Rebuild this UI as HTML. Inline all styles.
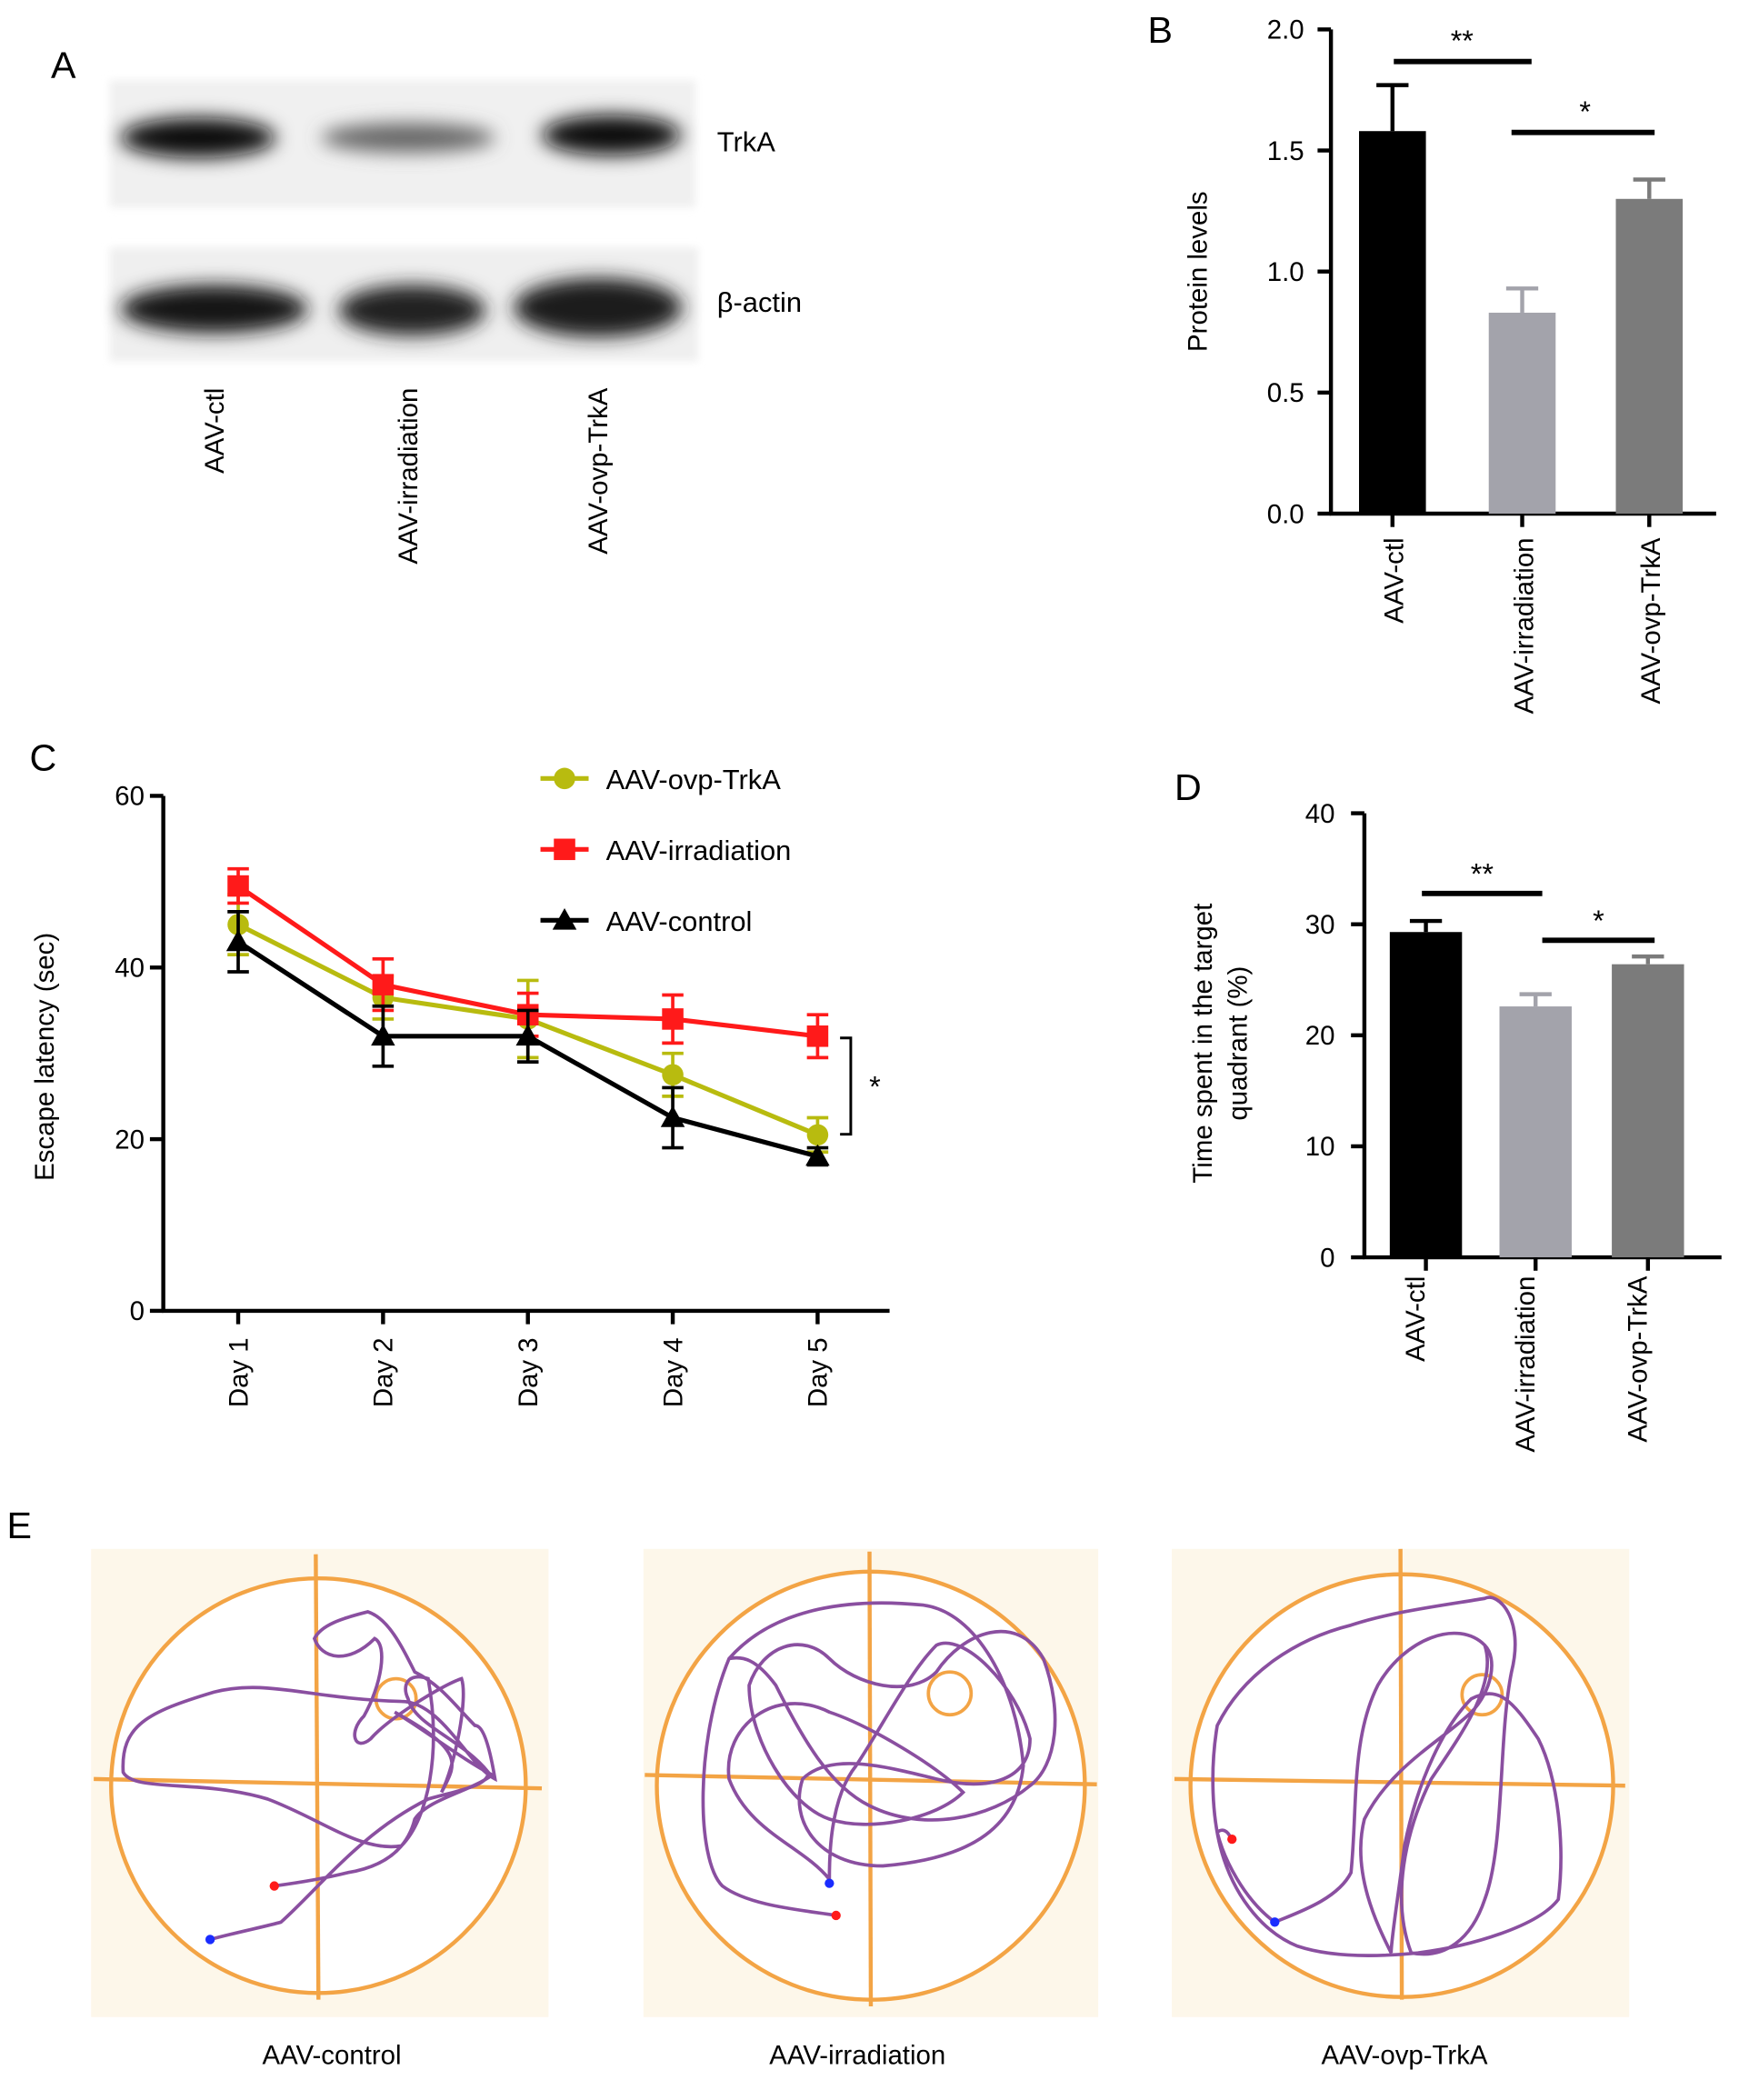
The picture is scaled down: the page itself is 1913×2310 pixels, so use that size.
<!DOCTYPE html>
<html><head><meta charset="utf-8">
<style>
html,body{margin:0;padding:0;background:#fff;}
svg{display:block;font-family:"Liberation Sans",Arial,sans-serif;}
</style></head>
<body>
<svg id="fig" width="1913" height="2310" viewBox="0 0 1300 1570" xmlns="http://www.w3.org/2000/svg">
<defs>
<filter id="blur" x="-30%" y="-80%" width="160%" height="260%"><feGaussianBlur stdDeviation="7"/></filter>
<filter id="blur2" x="-10%" y="-10%" width="120%" height="120%"><feGaussianBlur stdDeviation="3"/></filter>
</defs>

<!-- Panel A -->
<g>
<text x="38" y="58" font-size="28">A</text>
<rect x="82" y="60" width="438" height="95" fill="#f0f0f0" filter="url(#blur2)"/>
<rect x="82" y="185" width="440" height="85" fill="#efefef" filter="url(#blur2)"/>
<g filter="url(#blur)">
<ellipse cx="148" cy="103" rx="58" ry="15" fill="#111"/>
<ellipse cx="305" cy="103" rx="65" ry="11" fill="#666"/>
<ellipse cx="457" cy="101" rx="52" ry="15" fill="#111"/>
<ellipse cx="160" cy="231" rx="70" ry="18" fill="#151515"/>
<ellipse cx="308" cy="232" rx="55" ry="19" fill="#222"/>
<ellipse cx="447" cy="230" rx="63" ry="22" fill="#1e1e1e"/>
</g>
<text x="536" y="113" font-size="21">TrkA</text>
<text x="536" y="233" font-size="21">β-actin</text>
<text transform="translate(167,290) rotate(-90)" text-anchor="end" font-size="20">AAV-ctl</text>
<text transform="translate(312,290) rotate(-90)" text-anchor="end" font-size="20">AAV-irradiation</text>
<text transform="translate(454,290) rotate(-90)" text-anchor="end" font-size="20">AAV-ovp-TrkA</text>
</g>

<g id="panelB">
<text x="858" y="32" font-size="28">B</text>
<text transform="translate(902,203) rotate(-90)" text-anchor="middle" font-size="20">Protein levels</text>
</g>
<g id="panelC">
<text x="22" y="576" font-size="28">C</text>
<text transform="translate(40,790) rotate(-90)" text-anchor="middle" font-size="20">Escape latency (sec)</text>
</g>
<g id="panelD">
<text x="878" y="598" font-size="28">D</text>
<text transform="translate(906,780) rotate(-90)" text-anchor="middle" font-size="20">Time spent in the target</text>
<text transform="translate(932,780) rotate(-90)" text-anchor="middle" font-size="20">quadrant (%)</text>
</g>

<!-- Panel E -->
<g>
<text x="5" y="1150" font-size="28">E</text>
<g>
<rect x="68" y="1158" width="342" height="350" fill="#fdf7ea"/>
<circle cx="238" cy="1335" r="155" fill="#fff" stroke="#f3a445" stroke-width="3"/>
<line x1="236" y1="1162" x2="238" y2="1495" stroke="#f3a445" stroke-width="3"/>
<line x1="70" y1="1330" x2="405" y2="1337" stroke="#f3a445" stroke-width="3"/>
<circle cx="296" cy="1270" r="15" fill="none" stroke="#f3a445" stroke-width="2.5"/>
<path d="M157,1450 C175,1445 200,1440 210,1437 C240,1410 270,1370 320,1345 C345,1338 365,1335 365,1325 C345,1300 310,1290 305,1270 C300,1260 305,1250 320,1255 C330,1310 320,1360 300,1380 C270,1385 240,1360 200,1345 C150,1330 100,1340 92,1325 C90,1290 110,1280 160,1265 C200,1255 230,1270 300,1272 C330,1272 350,1320 370,1330 C365,1300 360,1290 355,1290 C340,1275 330,1260 310,1250 C300,1230 290,1210 275,1205 C255,1210 240,1215 235,1225 C240,1240 260,1245 280,1225 C290,1230 285,1260 272,1283 C260,1295 265,1310 277,1300 C290,1285 330,1260 345,1255 C350,1270 340,1320 330,1340 C340,1320 350,1310 295,1280 C320,1295 345,1315 368,1327 C350,1340 320,1345 310,1360 C305,1380 290,1395 260,1400 C240,1405 220,1408 205,1410" fill="none" stroke="#8a4fa0" stroke-width="2.5"/>
<circle cx="157" cy="1450" r="3.5" fill="#1a2cff"/><circle cx="205" cy="1410" r="3.5" fill="#ff1a1a"/>
</g>
<g>
<rect x="481" y="1158" width="340" height="350" fill="#fdf7ea"/>
<circle cx="651" cy="1335" r="160" fill="#fff" stroke="#f3a445" stroke-width="3"/>
<line x1="650" y1="1160" x2="651" y2="1500" stroke="#f3a445" stroke-width="3"/>
<line x1="482" y1="1327" x2="820" y2="1334" stroke="#f3a445" stroke-width="3"/>
<circle cx="710" cy="1266" r="16" fill="none" stroke="#f3a445" stroke-width="2.5"/>
<path d="M625,1432 C600,1428 560,1425 540,1410 C520,1390 520,1300 545,1240 C580,1200 640,1195 690,1200 C730,1205 760,1260 765,1320 C760,1370 720,1390 660,1395 C610,1395 590,1360 600,1330 C620,1310 660,1320 700,1330 C740,1340 770,1330 770,1300 C760,1260 720,1220 700,1230 C680,1250 660,1290 640,1320 C620,1345 620,1390 620,1405 C600,1380 560,1370 545,1330 C540,1290 580,1260 620,1280 C650,1290 700,1320 720,1340 C700,1360 650,1370 620,1360 C590,1350 560,1300 560,1260 C570,1230 600,1220 620,1240 C640,1260 680,1270 700,1250 C720,1220 760,1205 780,1240 C795,1280 790,1320 770,1335 C740,1360 690,1370 650,1350 C620,1335 600,1300 580,1260 C565,1240 555,1238 545,1240" fill="none" stroke="#8a4fa0" stroke-width="2.5"/>
<circle cx="620" cy="1408" r="3.5" fill="#1a2cff"/><circle cx="625" cy="1432" r="3.5" fill="#ff1a1a"/>
</g>
<g>
<rect x="876" y="1158" width="342" height="350" fill="#fdf7ea"/>
<circle cx="1048" cy="1335" r="158" fill="#fff" stroke="#f3a445" stroke-width="3"/>
<line x1="1047" y1="1158" x2="1048" y2="1495" stroke="#f3a445" stroke-width="3"/>
<line x1="878" y1="1330" x2="1215" y2="1335" stroke="#f3a445" stroke-width="3"/>
<circle cx="1108" cy="1267" r="15" fill="none" stroke="#f3a445" stroke-width="2.5"/>
<path d="M953,1437 C970,1430 1000,1420 1010,1400 C1015,1350 1010,1300 1030,1260 C1050,1225 1090,1210 1110,1230 C1120,1260 1090,1300 1070,1330 C1050,1370 1040,1420 1055,1460 C1080,1465 1100,1450 1110,1420 C1125,1380 1120,1300 1130,1250 C1140,1210 1120,1190 1110,1195 C1080,1200 1040,1205 1010,1215 C970,1225 930,1250 910,1290 C905,1320 905,1360 915,1390 C925,1420 945,1445 970,1455 C1000,1465 1040,1462 1060,1460 C1100,1455 1150,1440 1165,1420 C1170,1380 1165,1330 1150,1300 C1130,1270 1120,1260 1100,1270 C1080,1290 1060,1330 1050,1380 C1045,1420 1040,1450 1040,1460 C1030,1440 1010,1400 1020,1360 C1040,1320 1080,1300 1100,1280 C1115,1265 1120,1240 1110,1230 M953,1437 C930,1420 915,1390 910,1370 C915,1365 920,1372 920,1375" fill="none" stroke="#8a4fa0" stroke-width="2.5"/>
<circle cx="953" cy="1437" r="3.5" fill="#1a2cff"/><circle cx="921" cy="1375" r="3.5" fill="#ff1a1a"/>
</g>
<text x="248" y="1543" text-anchor="middle" font-size="20">AAV-control</text>
<text x="641" y="1543" text-anchor="middle" font-size="20">AAV-irradiation</text>
<text x="1050" y="1543" text-anchor="middle" font-size="20">AAV-ovp-TrkA</text>
</g>
</svg>

<script>
// ===== Panel B data =====
const bCategories = ["AAV-ctl", "AAV-irradiation", "AAV-ovp-TrkA"];
const bValues = [1.58, 0.83, 1.30];
const bErrors = [0.19, 0.10, 0.08];
const bTicks = [0, 0.5, 1.0, 1.5, 2.0];
// ===== Panel C data =====
const cDays = ["Day 1", "Day 2", "Day 3", "Day 4", "Day 5"];
const cOvp = [45, 36.5, 34, 27.5, 20.5];
const cOvpErr = [3.5, 2.5, 4.5, 2.5, 2.0];
const cIrr = [49.5, 38, 34.5, 34, 32];
const cIrrErr = [2.0, 3.0, 2.5, 2.8, 2.5];
const cCtl = [43, 32, 32, 22.5, 18];
const cCtlErr = [3.5, 3.5, 3.0, 3.5, 1.0];
const cTicks = [0, 20, 40, 60];
// ===== Panel D data =====
const dCategories = ["AAV-ctl", "AAV-irradiation", "AAV-ovp-TrkA"];
const dValues = [29.3, 22.6, 26.4];
const dErrors = [1.0, 1.1, 0.7];
const dTicks = [0, 10, 20, 30, 40];

const NS = "http://www.w3.org/2000/svg";
function mk(parent, tag, attrs, text) {
  const el = document.createElementNS(NS, tag);
  for (const k in attrs) el.setAttribute(k, attrs[k]);
  if (text !== undefined) el.textContent = text;
  parent.appendChild(el);
  return el;
}

// ----- Panel B -----
(function () {
  const g = document.getElementById("panelB");
  const x0 = 995, y0 = 384, yTop = 22, xEnd = 1283, max = 2.0;
  const y = v => y0 - (v / max) * (y0 - yTop);
  const centers = [1041, 1138, 1233], bw = 50;
  const colors = ["#000", "#a3a3ab", "#7b7b7b"];
  let el = mk(g, "line", {x1: x0, y1: yTop, x2: x0, y2: y0 + 1, stroke: "#000", "stroke-width": 3});
  
  
  el = mk(g, "line", {x1: x0 - 1, y1: y0, x2: xEnd, y2: y0, stroke: "#000", "stroke-width": 3});
  
  
  bTicks.forEach(t => {
    mk(g, "line", {x1: x0 - 10, y1: y(t), x2: x0, y2: y(t), stroke: "#000", "stroke-width": 3});
    const tl = mk(g, "text", {x: x0 - 20, y: y(t) + 7, "text-anchor": "end", "font-size": 20}, t.toFixed(1));
    
    
  });
  bCategories.forEach((c, i) => {
    const cx = centers[i];
    const top = y(bValues[i] + bErrors[i]);
    mk(g, "line", {x1: cx, y1: top, x2: cx, y2: y(bValues[i]), stroke: colors[i], "stroke-width": 3});
    mk(g, "line", {x1: cx - 12, y1: top, x2: cx + 12, y2: top, stroke: colors[i], "stroke-width": 3});
    const r = mk(g, "rect", {x: cx - bw / 2, y: y(bValues[i]), width: bw, height: y0 - y(bValues[i]), fill: colors[i]});
    
    
    mk(g, "line", {x1: cx, y1: y0, x2: cx, y2: y0 + 10, stroke: "#000", "stroke-width": 3});
    const t = mk(g, "text", {transform: `translate(${cx + 8},${y0 + 18}) rotate(-90)`, "text-anchor": "end", "font-size": 20}, c);
    
    
  });
  mk(g, "line", {x1: 1042, y1: 46, x2: 1145, y2: 46, stroke: "#000", "stroke-width": 4});
  el = mk(g, "text", {x: 1093, y: 38, "text-anchor": "middle", "font-size": 22}, "**");
  
  
  mk(g, "line", {x1: 1130, y1: 99, x2: 1237, y2: 99, stroke: "#000", "stroke-width": 4});
  el = mk(g, "text", {x: 1185, y: 91, "text-anchor": "middle", "font-size": 22}, "*");
  
  
})();

// ----- Panel C -----
(function () {
  const g = document.getElementById("panelC");
  const x0 = 122, y0 = 980, yTop = 595, xEnd = 665, max = 60;
  const y = v => y0 - (v / max) * (y0 - yTop);
  const x = i => 178 + i * 108.3;
  let el = mk(g, "line", {x1: x0, y1: yTop, x2: x0, y2: y0 + 1, stroke: "#000", "stroke-width": 3});
  
  
  el = mk(g, "line", {x1: x0 - 1, y1: y0, x2: xEnd, y2: y0, stroke: "#000", "stroke-width": 3});
  
  
  cTicks.forEach(t => {
    mk(g, "line", {x1: x0 - 10, y1: y(t), x2: x0, y2: y(t), stroke: "#000", "stroke-width": 3});
    const tl = mk(g, "text", {x: x0 - 14, y: y(t) + 7, "text-anchor": "end", "font-size": 20}, String(t));
    
    
  });
  cDays.forEach((d, i) => {
    mk(g, "line", {x1: x(i), y1: y0, x2: x(i), y2: y0 + 10, stroke: "#000", "stroke-width": 3});
    const t = mk(g, "text", {transform: `translate(${x(i) + 7},${y0 + 20}) rotate(-90)`, "text-anchor": "end", "font-size": 20}, d);
    
    
  });
  const series = [
    {vals: cOvp, err: cOvpErr, color: "#b8bb0f", shape: "circle", name: "AAV-ovp-TrkA", ly: 582},
    {vals: cIrr, err: cIrrErr, color: "#ff1a1a", shape: "square", name: "AAV-irradiation", ly: 635},
    {vals: cCtl, err: cCtlErr, color: "#000", shape: "triangle", name: "AAV-control", ly: 688}
  ];
  function marker(cx, cy, s) {
    if (s.shape === "circle") return mk(g, "circle", {cx: cx, cy: cy, r: 8, fill: s.color});
    if (s.shape === "square") return mk(g, "rect", {x: cx - 8, y: cy - 8, width: 16, height: 16, fill: s.color});
    return mk(g, "polygon", {points: `${cx},${cy - 9} ${cx + 9},${cy + 7} ${cx - 9},${cy + 7}`, fill: s.color});
  }
  series.forEach(s => {
    s.vals.forEach((v, i) => {
      const t = y(v + s.err[i]), b = y(v - s.err[i]);
      mk(g, "line", {x1: x(i), y1: t, x2: x(i), y2: b, stroke: s.color, "stroke-width": 2.5});
      mk(g, "line", {x1: x(i) - 8, y1: t, x2: x(i) + 8, y2: t, stroke: s.color, "stroke-width": 2.5});
      mk(g, "line", {x1: x(i) - 8, y1: b, x2: x(i) + 8, y2: b, stroke: s.color, "stroke-width": 2.5});
    });
    const pl = mk(g, "polyline", {points: s.vals.map((v, i) => `${x(i)},${y(v)}`).join(" "), fill: "none", stroke: s.color, "stroke-width": 3.5});
    
    
    s.vals.forEach((v, i) => {
      const m = marker(x(i), y(v), s);
      
      
    });
    mk(g, "line", {x1: 404, y1: s.ly, x2: 440, y2: s.ly, stroke: s.color, "stroke-width": 3.5});
    marker(422, s.ly, s);
    const lt = mk(g, "text", {x: 453, y: s.ly + 8, "font-size": 21}, s.name);
    
    
  });
  mk(g, "polyline", {points: "628,776 636,776 636,848 628,848", fill: "none", stroke: "#000", "stroke-width": 2});
  el = mk(g, "text", {x: 654, y: 820, "text-anchor": "middle", "font-size": 22}, "*");
  
  
})();

// ----- Panel D -----
(function () {
  const g = document.getElementById("panelD");
  const x0 = 1020, y0 = 940, yTop = 608, xEnd = 1287, max = 40;
  const y = v => y0 - (v / max) * (y0 - yTop);
  const centers = [1066, 1148, 1232], bw = 54;
  const colors = ["#000", "#a3a3ab", "#7b7b7b"];
  let el = mk(g, "line", {x1: x0, y1: yTop, x2: x0, y2: y0 + 1, stroke: "#000", "stroke-width": 3});
  
  
  el = mk(g, "line", {x1: x0 - 1, y1: y0, x2: xEnd, y2: y0, stroke: "#000", "stroke-width": 3});
  
  
  dTicks.forEach(t => {
    mk(g, "line", {x1: x0 - 10, y1: y(t), x2: x0, y2: y(t), stroke: "#000", "stroke-width": 3});
    const tl = mk(g, "text", {x: x0 - 22, y: y(t) + 7, "text-anchor": "end", "font-size": 20}, String(t));
    
    
  });
  dCategories.forEach((c, i) => {
    const cx = centers[i];
    const top = y(dValues[i] + dErrors[i]);
    mk(g, "line", {x1: cx, y1: top, x2: cx, y2: y(dValues[i]), stroke: colors[i], "stroke-width": 3});
    mk(g, "line", {x1: cx - 12, y1: top, x2: cx + 12, y2: top, stroke: colors[i], "stroke-width": 3});
    const r = mk(g, "rect", {x: cx - bw / 2, y: y(dValues[i]), width: bw, height: y0 - y(dValues[i]), fill: colors[i]});
    
    
    mk(g, "line", {x1: cx, y1: y0, x2: cx, y2: y0 + 10, stroke: "#000", "stroke-width": 3});
    const t = mk(g, "text", {transform: `translate(${cx - 1},${y0 + 14}) rotate(-90)`, "text-anchor": "end", "font-size": 20}, c);
    
    
  });
  mk(g, "line", {x1: 1063, y1: 668, x2: 1153, y2: 668, stroke: "#000", "stroke-width": 4});
  el = mk(g, "text", {x: 1108, y: 661, "text-anchor": "middle", "font-size": 22}, "**");
  
  
  mk(g, "line", {x1: 1153, y1: 703, x2: 1237, y2: 703, stroke: "#000", "stroke-width": 4});
  el = mk(g, "text", {x: 1195, y: 696, "text-anchor": "middle", "font-size": 22}, "*");
  
  
})();
</script>
</body></html>
